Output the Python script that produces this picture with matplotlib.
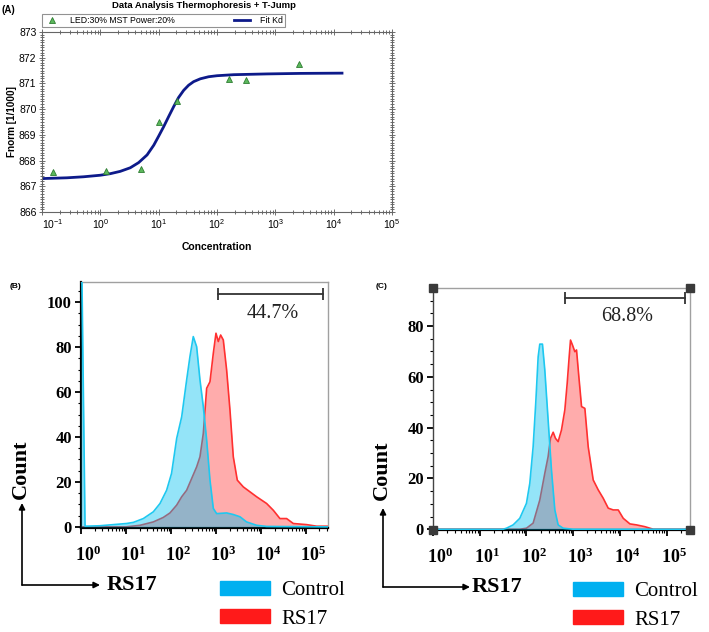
import numpy as np
import matplotlib
matplotlib.use("Agg")
import matplotlib.pyplot as plt
from matplotlib.patches import Patch
from matplotlib.lines import Line2D
from matplotlib.ticker import MultipleLocator, LogLocator, NullFormatter, FixedLocator, FixedFormatter
from matplotlib.transforms import ScaledTranslation

# ---- (A) MST binding data ----
conc_pts = [0.156, 1.25, 5.06, 10.2, 20.4, 159, 320, 2570]
fnorm_pts = [867.54, 867.58, 867.68, 869.50, 870.32, 871.17, 871.12, 871.77]
fit_conc = [0.1, 0.268, 0.518, 1.0, 1.48, 2.19, 3.26, 4.53, 6.33, 8.25, 10.0,
            12.2, 14.9, 18.1, 21.9, 26.8, 32.6, 39.8, 51.8, 71.9, 100, 193,
            720, 2680, 13900]
fit_fnorm = [867.30, 867.33, 867.37, 867.43, 867.49, 867.58, 867.72, 867.92,
             868.22, 868.60, 868.95, 869.32, 869.72, 870.10, 870.45, 870.73,
             870.93, 871.07, 871.18, 871.26, 871.30, 871.34, 871.37, 871.39,
             871.40]
conc_decades = [0.1, 1, 10, 100, 1000, 10000, 100000]
conc_labels = [r"$\mathdefault{10^{%d}}$" % i for i in range(-1, 6)]

# ---- (B) flow histograms ----
b_ctrl_x = [1.0, 1.05, 1.23, 2.64, 10.3, 14.6, 24.3, 40.5, 57, 80, 103, 134,
            173, 223, 264, 313, 372, 441, 523, 621, 736, 873, 1035, 1726,
            2427, 3413, 4800, 8010, 13370, 313000]
b_ctrl_y = [110, 110, 0.3, 0.5, 1.5, 2.0, 3.7, 6.7, 10.4, 16.3, 23.8, 39.4,
            49, 65.4, 75.8, 84.7, 80.2, 65.4, 53.5, 38.6, 20.8, 8.2, 5.9, 6.2,
            5.5, 4.5, 2.2, 0.7, 0.2, 0.0]
b_rs_x = [1.0, 10, 20.5, 40.5, 67.5, 95, 134, 173, 223, 288, 372, 441, 523,
          621, 736, 873, 1000, 1127, 1270, 1455, 1726, 2047, 2427, 2978, 4048,
          5698, 8010, 10350, 13370, 18800, 26400, 37150, 52300, 103500,
          172600, 313000]
b_rs_y = [0, 0, 0.7, 2.2, 4.2, 6.2, 9.7, 13.4, 16.3, 21.5, 26.7, 31.2, 41.6,
          61.7, 64.6, 77.3, 86.2, 82.5, 85.4, 83.2, 69.8, 52, 31.2, 20.8, 17.8,
          15.6, 13.4, 11.9, 10.4, 7.4, 3.7, 3.7, 1.5, 1.0, 0.3, 0.3]

# ---- (C) flow histograms ----
c_ctrl_x = [1.0, 31.6, 37.3, 51.8, 72, 100, 118, 139, 158, 178, 193, 220, 247,
            291, 343, 405, 477, 611, 1000, 316000]
c_ctrl_y = [0, 0, 0.4, 1.7, 4.3, 10.2, 18.1, 32.5, 49.6, 67.9, 72.9, 72.9,
            62.7, 43, 23.3, 7.6, 1.7, 0.4, 0, 0]
c_rs_x = [1.0, 72, 100, 139, 193, 247, 291, 327, 373, 418, 477, 562, 663, 744,
          821, 877, 968, 1086, 1179, 1322, 1510, 1778, 2096, 2683, 3434, 4394,
          5623, 7197, 9210, 11790, 16380, 22760, 34340, 51800, 316000]
c_rs_y = [0, 0, 0.4, 2.4, 11.5, 22, 28.6, 35.8, 38.2, 35.8, 34.5, 39.1, 47,
          57.4, 67.9, 74.5, 72.5, 69.9, 70.6, 60.1, 48.3, 47.6, 32.5, 19.4,
          15.5, 12.2, 8.3, 7.6, 7.6, 4.3, 2.1, 1.7, 1.0, 0, 0]

decades = [1, 10, 100, 1000, 10000, 100000]
decade_labels = [r"$\mathdefault{10^{%d}}$" % i for i in range(6)]

W, H = 709, 632
fig = plt.figure(figsize=(W / 100, H / 100), dpi=100)


def frac(l, t, r, b):
    return [l / W, 1 - b / H, (r - l) / W, (b - t) / H]


sans = "Liberation Sans"
serif = "Liberation Serif"

# ================= (A) =================
axA = fig.add_axes(frac(42, 32, 392, 212))
axA.plot(fit_conc, fit_fnorm, color="#0d1a8a", lw=2, zorder=2)
axA.plot(conc_pts, fnorm_pts, ls="none", marker="^", ms=5,
         mfc="#5cb85c", mec="#2e7d32", mew=0.6, zorder=3)
axA.set_xscale("log")
axA.set_xlim(0.1, 1e5)
axA.set_ylim(866, 873)
axA.yaxis.set_major_locator(MultipleLocator(1))
axA.yaxis.set_minor_locator(MultipleLocator(0.1))
axA.xaxis.set_major_locator(FixedLocator(conc_decades))
axA.xaxis.set_major_formatter(FixedFormatter(conc_labels))
axA.xaxis.set_minor_locator(LogLocator(base=10, subs=np.arange(2, 10), numticks=20))
axA.xaxis.set_minor_formatter(NullFormatter())
axA.tick_params(which="both", direction="inout", top=True, right=True,
                color="#555555", width=0.6, labelsize=7.5, pad=2)
axA.tick_params(which="major", length=4)
axA.tick_params(which="minor", length=2.2)
for lab in axA.get_xticklabels() + axA.get_yticklabels():
    lab.set_fontfamily(sans)
axA.get_xticklabels()[0].set_horizontalalignment("left")
for sp in axA.spines.values():
    sp.set_color("#666666")
    sp.set_linewidth(0.8)
axA.set_xlabel("Concentration", fontsize=7.5, fontweight="bold", family=sans)
axA.set_ylabel("Fnorm [1/1000]", fontsize=7.2, fontweight="bold", family=sans)
axA.xaxis.set_label_coords(0.5, -0.165)
axA.yaxis.set_label_coords(-0.072, 0.5)

legA_handles = [
    Line2D([], [], ls="none", marker="^", ms=4.5, mfc="#5cb85c", mec="#2e7d32", mew=0.6),
    Line2D([], [], color="#0d1a8a", lw=2),
]
legA = axA.legend(legA_handles, ["LED:30% MST Power:20%", "Fit Kd"], ncol=2,
                  mode="expand", loc="lower left",
                  bbox_to_anchor=(0, 1.028, 243 / 350, 0.056), borderaxespad=0,
                  frameon=True, fancybox=False, borderpad=0.2,
                  handlelength=1.8, handletextpad=1.2, columnspacing=1.0,
                  prop={"family": sans, "size": 6.3})
legA.get_frame().set_edgecolor("#777777")
legA.get_frame().set_linewidth(0.8)

fig.text(204 / W, 1 - 6 / H, "Data Analysis Thermophoresis + T-Jump",
         ha="center", va="center", fontsize=6.8, fontweight="bold", family=sans)
fig.text(2 / W, 1 - 10 / H, "(A)", ha="left", va="center", fontsize=7,
         fontweight="bold", family=sans)

# ================= flow panels =================
blue_line = "#1ec8f0"
blue_fill = "#00bff0"
red_line = "#ff3030"
red_fill = "#ff3a3a"


def flow_panel(box, ctrl_x, ctrl_y, rs_x, rs_y, ylim, yticks, xmax, pct,
               bracket, pct_xy, left_gray=False, corners=False):
    ax = fig.add_axes(box)
    ax.fill_between(rs_x, rs_y, 0, color=red_fill, alpha=0.42, lw=0, zorder=1)
    ax.plot(rs_x, rs_y, color=red_line, lw=1.2, zorder=2)
    ax.fill_between(ctrl_x, ctrl_y, 0, color=blue_fill, alpha=0.42, lw=0, zorder=3)
    ax.plot(ctrl_x, ctrl_y, color=blue_line, lw=1.2, zorder=4)
    ax.set_xscale("log")
    ax.set_xlim(1, xmax)
    ax.set_ylim(*ylim)
    ax.xaxis.set_major_locator(FixedLocator(decades))
    ax.xaxis.set_major_formatter(FixedFormatter(decade_labels))
    ax.xaxis.set_minor_locator(LogLocator(base=10, subs=np.arange(2, 10), numticks=20))
    ax.xaxis.set_minor_formatter(NullFormatter())
    ax.yaxis.set_major_locator(FixedLocator(yticks))
    ax.yaxis.set_minor_locator(MultipleLocator(5))
    ax.tick_params(which="both", direction="out", color="black")
    ax.tick_params(which="major", length=4.5, width=1.3)
    ax.tick_params(which="minor", length=2.5, width=0.8)
    ax.tick_params(axis="x", which="major", pad=8, labelsize=13)
    ax.tick_params(axis="y", which="major", pad=2, labelsize=12)
    offset = ScaledTranslation(7 / 100, 0, fig.dpi_scale_trans)
    for lab in ax.get_xticklabels():
        lab.set_fontfamily(serif)
        lab.set_fontweight("bold")
        lab.set_transform(lab.get_transform() + offset)
    for lab in ax.get_yticklabels():
        lab.set_fontfamily(serif)
        lab.set_fontweight("bold")
    for side in ["top", "right"]:
        ax.spines[side].set_color("#a0a0a0")
        ax.spines[side].set_linewidth(1.0)
    ax.spines["bottom"].set_color("black")
    ax.spines["bottom"].set_linewidth(1.6)
    ax.spines["left"].set_color("#444444" if left_gray else "black")
    ax.spines["left"].set_linewidth(1.0 if left_gray else 1.6)
    if corners:
        ax.plot([0, 1, 0, 1], [0, 0, 1, 1], ls="none", marker="s", ms=6,
                color="#3a3a3a", transform=ax.transAxes, clip_on=False, zorder=6)
    ax.plot(bracket[0], [bracket[1]] * 2, color="#333333", lw=1.3,
            marker="|", ms=9, mew=1.3, zorder=5)
    ax.text(pct_xy[0], pct_xy[1], pct, ha="center", va="center", fontsize=14.5,
            family=serif, color="#222222")
    return ax


flow_panel(frac(81, 282, 328, 528), b_ctrl_x, b_ctrl_y, b_rs_x, b_rs_y,
           (-0.5, 109), [0, 20, 40, 60, 80, 100], 10 ** 5.49, "44.7%",
           ((1100, 240000), 103.6), (18600, 95))
flow_panel(frac(433, 288, 690, 530), c_ctrl_x, c_ctrl_y, c_rs_x, c_rs_y,
           (-0.3, 95), [0, 20, 40, 60, 80], 10 ** 5.5, "68.8%",
           ((661, 245000), 91), (14100, 83.6), left_gray=True, corners=True)

# panel letters, axis captions, arrows, legends
fig.text(10 / W, 1 - 287 / H, "(B)", ha="left", va="center", fontsize=6,
         fontweight="bold", family=sans)
fig.text(376 / W, 1 - 286 / H, "(C)", ha="left", va="center", fontsize=6,
         fontweight="bold", family=sans)

for (ax0, ytop, xend, xlab, ycount, xcount) in [(22, 503, 100, 107, 469, 21),
                                               (383, 508, 470, 472, 470, 382)]:
    ybase = 585 if ax0 == 22 else 587
    fig.add_artist(matplotlib.patches.FancyArrowPatch(
        (ax0 / W, 1 - ybase / H), (ax0 / W, 1 - ytop / H),
        transform=fig.transFigure, arrowstyle="-|>", mutation_scale=9,
        lw=1.2, color="black", shrinkA=0, shrinkB=0))
    fig.add_artist(matplotlib.patches.FancyArrowPatch(
        (ax0 / W, 1 - ybase / H), (xend / W, 1 - ybase / H),
        transform=fig.transFigure, arrowstyle="-|>", mutation_scale=9,
        lw=1.2, color="black", shrinkA=0, shrinkB=0))
    fig.text(xlab / W, 1 - ybase / H, "RS17", ha="left", va="center",
             fontsize=16, fontweight="bold", family=serif)
    fig.text(xcount / W, 1 - ycount / H, "Count", ha="center", va="center",
             rotation=90, fontsize=16, fontweight="bold", family=serif)

for xl, yt in [(220, 581), (573, 582)]:
    leg = fig.legend(handles=[Patch(color="#00b0f0"), Patch(color="#ff1a1a")],
                     labels=["Control", "RS17"], loc="upper left",
                     bbox_to_anchor=(xl / W, 1 - yt / H), frameon=False,
                     borderpad=0, borderaxespad=0, handlelength=2.4,
                     handleheight=0.62, handletextpad=0.55, labelspacing=0.45,
                     prop={"family": serif, "size": 15})

fig.savefig("out.png", dpi=100)
plt.close(fig)
